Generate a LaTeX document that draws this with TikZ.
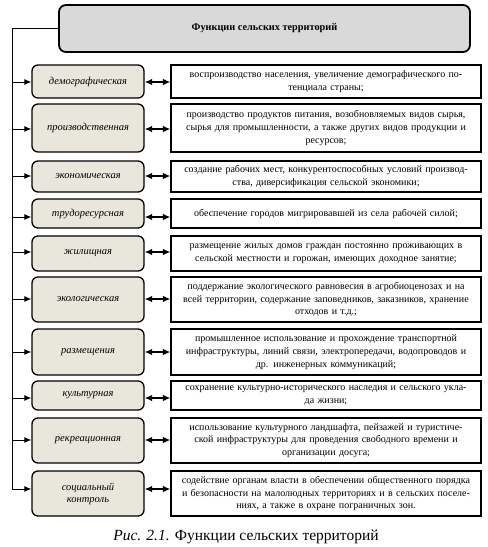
\documentclass[tikz,border=0pt]{standalone}
\usepackage{fontspec}
\setmainfont{Liberation Serif}
\usetikzlibrary{arrows.meta}

\tikzset{
  func/.style={draw, line width=1.3pt, rounded corners=6pt, fill=funcfill,
    minimum width=112pt, inner sep=2pt, align=center,
    font=\fontsize{10.5}{12}\selectfont\itshape},
  descr/.style={draw, line width=1.2pt, fill=white, minimum width=310pt,
    text width=306pt, inner sep=2pt, align=center,
    font=\fontsize{10}{12.8}\selectfont},
  arr/.style={-{Latex[length=7pt,width=6pt]}, line width=0.9pt},
  darr/.style={{Latex[length=7.5pt,width=6.5pt]}-{Latex[length=7.5pt,width=6.5pt]}, line width=1.3pt}
}
\definecolor{funcfill}{HTML}{E9E7DC}
\definecolor{titlefill}{HTML}{D9D9D9}

\begin{document}
\begin{tikzpicture}[x=1pt, y=-1pt]
  \useasboundingbox (0,0) rectangle (488,547);

  % Title
  \node[draw, line width=1.8pt, rounded corners=7pt, fill=titlefill,
    minimum width=411pt, minimum height=47pt,
    font=\fontsize{10.3}{12}\selectfont\bfseries] (title) at (264.5,28.5) {Функции сельских территорий};

  % Functions
  \node[func, minimum height=33pt] (f1) at (88,81.5) {демографическая};
  \node[func, minimum height=48pt] (f2) at (88,128) {производственная};
  \node[func, minimum height=31pt] (f3) at (88,176.5) {экономическая};
  \node[func, minimum height=29pt] (f4) at (88,213.5) {трудоресурсная};
  \node[func, minimum height=35pt] (f5) at (88,253.5) {жилищная};
  \node[func, minimum height=45pt] (f6) at (88,299.5) {экологическая};
  \node[func, minimum height=46pt] (f7) at (88,352) {размещения};
  \node[func, minimum height=29pt] (f8) at (88,395.5) {культурная};
  \node[func, minimum height=45pt] (f9) at (88,440.5) {рекреационная};
  \node[func, minimum height=45pt] (f10) at (88,493.5) {социальный\\контроль};

  % Descriptions
  \node[descr, minimum height=33pt] (d1) at (326,81.5) {воспроизводство населения, увеличение демографического по-\\тенциала страны;};
  \node[descr, minimum height=48pt] (d2) at (326,128) {производство продуктов питания, возобновляемых видов сырья,\\сырья для промышленности, а также других видов продукции и\\ресурсов;};
  \node[descr, minimum height=31pt] (d3) at (326,176.5) {создание рабочих мест, конкурентоспособных условий производ-\\ства, диверсификация сельской экономики;};
  \node[descr, minimum height=29pt] (d4) at (326,213.5) {обеспечение городов мигрировавшей из села рабочей силой;};
  \node[descr, minimum height=35pt] (d5) at (326,253.5) {размещение жилых домов граждан постоянно проживающих в\\сельской местности и горожан, имеющих доходное занятие;};
  \node[descr, minimum height=45pt] (d6) at (326,299.5) {поддержание экологического равновесия в агробиоценозах и на\\всей территории, содержание заповедников, заказников, хранение\\отходов и т.д.;};
  \node[descr, minimum height=46pt] (d7) at (326,352) {промышленное использование и прохождение транспортной\\инфраструктуры, линий связи, электропередачи, водопроводов и\\др. инженерных коммуникаций;};
  \node[descr, minimum height=29pt] (d8) at (326,395.5) {сохранение культурно-исторического наследия и сельского укла-\\да жизни;};
  \node[descr, minimum height=45pt] (d9) at (326,440.5) {использование культурного ландшафта, пейзажей и туристиче-\\ской инфраструктуры для проведения свободного времени и\\организации досуга;};
  \node[descr, minimum height=45pt] (d10) at (326,493.5) {содействие органам власти в обеспечении общественного порядка\\и безопасности на малолюдных территориях и в сельских поселе-\\ниях, а также в охране пограничных зон.};

  % Caption
  \node[font=\fontsize{15.5}{18}\selectfont] (cap) at (246,537) {\textit{Рис. 2.1.} Функции сельских территорий};

  % Trunk
  \coordinate (a1) at (12,82);
  \coordinate (a2) at (12,129);
  \coordinate (a3) at (12,176);
  \coordinate (a4) at (12,217);
  \coordinate (a5) at (12,252);
  \coordinate (a6) at (12,299);
  \coordinate (a7) at (12,352);
  \coordinate (a8) at (12,398);
  \coordinate (a9) at (12,440);
  \coordinate (a10) at (12,489);
  \draw[line width=0.9pt] (title.west) -| (a10);

  % Edges
  \foreach \i in {1,...,10} {
    \draw[arr] (a\i) -- (f\i.west |- a\i);
    \draw[darr] (f\i.east |- a\i) -- (d\i.west |- a\i);
  }
\end{tikzpicture}
\end{document}
